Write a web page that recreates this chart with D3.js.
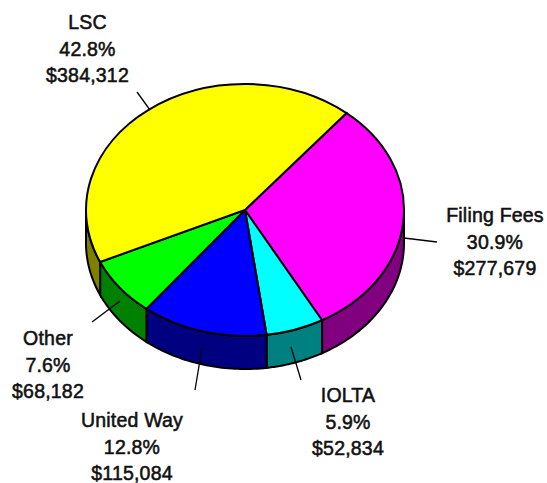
<!DOCTYPE html>
<html>
<head>
<meta charset="utf-8">
<script src="https://cdn.jsdelivr.net/npm/d3@7"></script>
<style>
  html, body { margin: 0; padding: 0; background: #fff; }
  svg { display: block; }
  text { font-family: "Liberation Sans", Arial, sans-serif; font-size: 19.5px; fill: #111; stroke: #111; stroke-width: 0.55px; text-anchor: middle; letter-spacing: 0.2px; }
</style>
</head>
<body>
<div id="chart"></div>
<script>
const width = 547;
const height = 483;

// slices in drawing order, clockwise from the yellow/magenta edge
const categories = ["Filing Fees", "IOLTA", "United Way", "Other", "LSC"];
const amounts = [277679, 52834, 115084, 68182, 384312];
const percents = ["30.9%", "5.9%", "12.8%", "7.6%", "42.8%"];
const amountLabels = ["$277,679", "$52,834", "$115,084", "$68,182", "$384,312"];
const topColors = ["#ff00ff", "#00ffff", "#0000ff", "#00ff00", "#ffff00"];
const sideColors = ["#800080", "#008080", "#000080", "#008000", "#808000"];

const cx = 245;
const cy = 210;
const rx = 159;
const ry = 126;
const depth = 33;
const startAngle = 39.7 * Math.PI / 180;

const svg = d3.select("#chart").append("svg")
    .attr("width", width)
    .attr("height", height);

const slices = d3.pie().sort(null)
    .startAngle(startAngle)
    .endAngle(startAngle + 2 * Math.PI)(amounts);

// angle 0 is straight up, going clockwise
const rimX = a => cx + rx * Math.sin(a);
const rimY = a => cy - ry * Math.cos(a);

// side walls, only the front half of the rim shows
const rimLine = d3.line().x(d => d[0]).y(d => d[1]);
const walls = svg.append("g");
slices.forEach((s, i) => {
    const from = Math.max(s.startAngle, Math.PI / 2);
    const to = Math.min(s.endAngle, 3 * Math.PI / 2);
    if (to <= from) return;
    const angles = d3.range(0, 41).map(k => from + (to - from) * k / 40);
    const upper = angles.map(a => [rimX(a), rimY(a)]);
    const lower = angles.slice().reverse().map(a => [rimX(a), rimY(a) + depth]);
    walls.append("path")
        .attr("d", rimLine(upper.concat(lower)) + "Z")
        .attr("fill", sideColors[i])
        .attr("stroke", "#000")
        .attr("stroke-width", 2);
});

// top face, circle squashed into an ellipse
const arc = d3.arc().innerRadius(0).outerRadius(rx);
svg.append("g")
    .attr("transform", `translate(${cx},${cy}) scale(1,${ry / rx})`)
    .selectAll("path")
    .data(slices)
    .enter().append("path")
    .attr("d", arc)
    .attr("fill", (d, i) => topColors[i])
    .attr("stroke", "#000")
    .attr("stroke-width", 2)
    .attr("vector-effect", "non-scaling-stroke");

// leader lines and labels, same order as categories
const leaders = [
    [[404, 238], [437, 242]],
    [[291, 347], [301, 380]],
    [[202, 348], [195, 390]],
    [[120, 301], [92, 322]],
    [[150, 110], [137, 92]]
];
const labelX = [495, 348, 132, 48, 87.5];
const labelY = [222, 402, 427, 345, 29];
const lineGap = 26.5;

svg.append("g").selectAll("line")
    .data(leaders)
    .enter().append("line")
    .attr("x1", d => d[0][0])
    .attr("y1", d => d[0][1])
    .attr("x2", d => d[1][0])
    .attr("y2", d => d[1][1])
    .attr("stroke", "#000")
    .attr("stroke-width", 1.3);

const labels = svg.append("g").selectAll("text")
    .data(categories)
    .enter().append("text")
    .attr("transform", (d, i) => `translate(${labelX[i]},${labelY[i]})`);

labels.each(function(d, i) {
    [d, percents[i], amountLabels[i]].forEach((t, k) => {
        d3.select(this).append("tspan")
            .attr("x", 0)
            .attr("y", k * lineGap)
            .text(t);
    });
});
</script>
</body>
</html>
